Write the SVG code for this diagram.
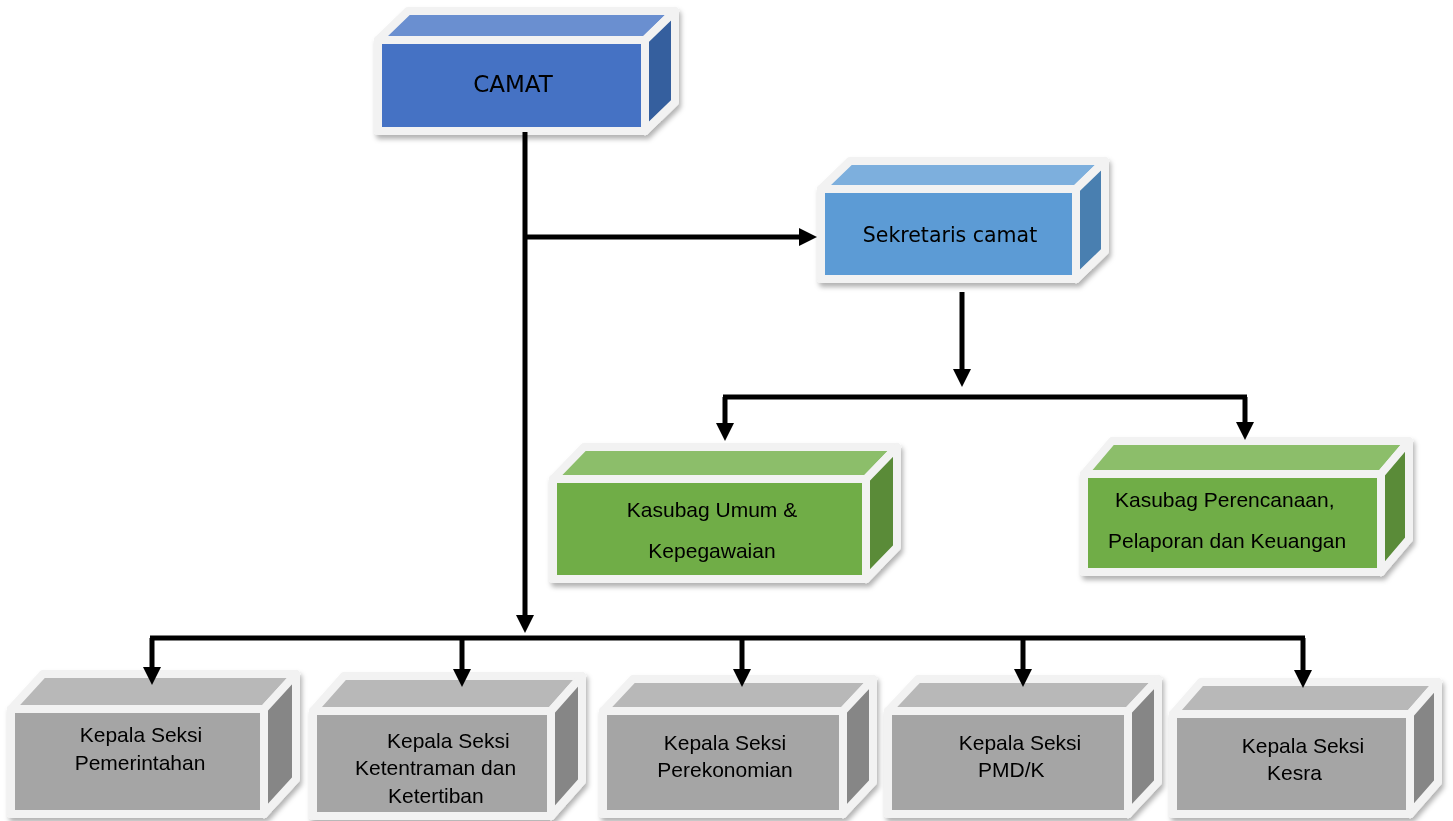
<svg xmlns="http://www.w3.org/2000/svg" width="1453" height="821" viewBox="0 0 1453 821">
<defs>
<style>
.f{stroke:#F2F2F2;stroke-width:8;stroke-linejoin:round}
.b .fr{fill:#4472C4}.b .tp{fill:#6A8FD0}.b .rt{fill:#365F9E}
.lb .fr{fill:#5B9BD5}.lb .tp{fill:#7DAFDD}.lb .rt{fill:#4A7FB0}
.g .fr{fill:#70AD47}.g .tp{fill:#8CBE6B}.g .rt{fill:#5A8B39}
.gr .fr{fill:#A5A5A5}.gr .tp{fill:#B8B8B8}.gr .rt{fill:#868686}
text{font-family:"Liberation Sans",Arial,sans-serif;font-size:21px;fill:#000}
.v{font-family:"DejaVu Sans",Verdana,sans-serif}
.c{stroke:#000;stroke-width:5;fill:none}
</style>
<filter id="sh" x="-10%" y="-10%" width="125%" height="130%">
<feDropShadow dx="2" dy="4" stdDeviation="2.5" flood-color="#000" flood-opacity="0.3"/>
</filter>
<marker id="ar" markerUnits="userSpaceOnUse" markerWidth="18" markerHeight="18" viewBox="0 0 18 18" refX="8" refY="9" orient="auto">
<path d="M0,0 L18,9 L0,18 Z" fill="#000"/>
</marker>
</defs>

<g id="camat" class="b" filter="url(#sh)">
<polygon class="f tp" points="378,40 645,40 675,11 408,11"/>
<polygon class="f rt" points="645,40 675,11 675,102 645,131"/>
<rect class="f fr" x="378" y="40" width="267" height="91"/>
<text class="v" x="513" y="92" text-anchor="middle" style="font-size:23px">CAMAT</text>
</g>

<g id="sekretaris" class="lb" filter="url(#sh)">
<polygon class="f tp" points="821,189 1076,189 1105,161 850,161"/>
<polygon class="f rt" points="1076,189 1105,161 1105,251 1076,279"/>
<rect class="f fr" x="821" y="189" width="255" height="90"/>
<text class="v" x="950" y="242" text-anchor="middle" style="font-size:20.5px">Sekretaris camat</text>
</g>

<g id="kasubag-umum" class="g" filter="url(#sh)">
<polygon class="f tp" points="553,479 866,479 897,447 584,447"/>
<polygon class="f rt" points="866,479 897,447 897,547 866,579"/>
<rect class="f fr" x="553" y="479" width="313" height="100"/>
<text x="712" y="517" text-anchor="middle">Kasubag Umum &amp;</text>
<text x="712" y="558" text-anchor="middle">Kepegawaian</text>
</g>

<g id="kasubag-perencanaan" class="g" filter="url(#sh)">
<polygon class="f tp" points="1084,474 1381,474 1409,441 1112,441"/>
<polygon class="f rt" points="1381,474 1409,441 1409,539 1381,572"/>
<rect class="f fr" x="1084" y="474" width="297" height="98"/>
<text x="1115" y="507">Kasubag Perencanaan,</text>
<text x="1108" y="548">Pelaporan dan Keuangan</text>
</g>

<g id="seksi-pemerintahan" class="gr" filter="url(#sh)">
<polygon class="f tp" points="11,709 264,709 296,674 43,674"/>
<polygon class="f rt" points="264,709 296,674 296,779 264,814"/>
<rect class="f fr" x="11" y="709" width="253" height="105"/>
<text x="141" y="742" text-anchor="middle">Kepala Seksi</text>
<text x="140" y="770" text-anchor="middle">Pemerintahan</text>
</g>

<g id="seksi-ketentraman" class="gr" filter="url(#sh)">
<polygon class="f tp" points="313,711 551,711 582,676 344,676"/>
<polygon class="f rt" points="551,711 582,676 582,781 551,816"/>
<rect class="f fr" x="313" y="711" width="238" height="105"/>
<text x="387" y="748">Kepala Seksi</text>
<text x="355" y="775">Ketentraman dan</text>
<text x="388" y="803">Ketertiban</text>
</g>

<g id="seksi-perekonomian" class="gr" filter="url(#sh)">
<polygon class="f tp" points="603,711 843,711 873,679 633,679"/>
<polygon class="f rt" points="843,711 873,679 873,782 843,814"/>
<rect class="f fr" x="603" y="711" width="240" height="103"/>
<text x="725" y="750" text-anchor="middle">Kepala Seksi</text>
<text x="725" y="777" text-anchor="middle">Perekonomian</text>
</g>

<g id="seksi-pmdk" class="gr" filter="url(#sh)">
<polygon class="f tp" points="888,711 1128,711 1158,679 918,679"/>
<polygon class="f rt" points="1128,711 1158,679 1158,782 1128,814"/>
<rect class="f fr" x="888" y="711" width="240" height="103"/>
<text x="1020" y="750" text-anchor="middle">Kepala Seksi</text>
<text x="978" y="777">PMD/K</text>
</g>

<g id="seksi-kesra" class="gr" filter="url(#sh)">
<polygon class="f tp" points="1173,714 1410,714 1438,682 1201,682"/>
<polygon class="f rt" points="1410,714 1438,682 1438,782 1410,814"/>
<rect class="f fr" x="1173" y="714" width="237" height="100"/>
<text x="1303" y="753" text-anchor="middle">Kepala Seksi</text>
<text x="1267" y="780">Kesra</text>
</g>

<g id="connectors">
<path class="c" d="M525,132 V623" marker-end="url(#ar)"/>
<path class="c" d="M525,237 H807" marker-end="url(#ar)"/>
<path class="c" d="M962,292 V377" marker-end="url(#ar)"/>
<path class="c" d="M723,397 H1247"/>
<path class="c" d="M725,397 V431" marker-end="url(#ar)"/>
<path class="c" d="M1245,397 V430" marker-end="url(#ar)"/>
<path class="c" d="M150,638 H1305"/>
<path class="c" d="M152,638 V675" marker-end="url(#ar)"/>
<path class="c" d="M462,638 V677" marker-end="url(#ar)"/>
<path class="c" d="M742,638 V677" marker-end="url(#ar)"/>
<path class="c" d="M1023,638 V677" marker-end="url(#ar)"/>
<path class="c" d="M1303,638 V678" marker-end="url(#ar)"/>
</g>
</svg>
